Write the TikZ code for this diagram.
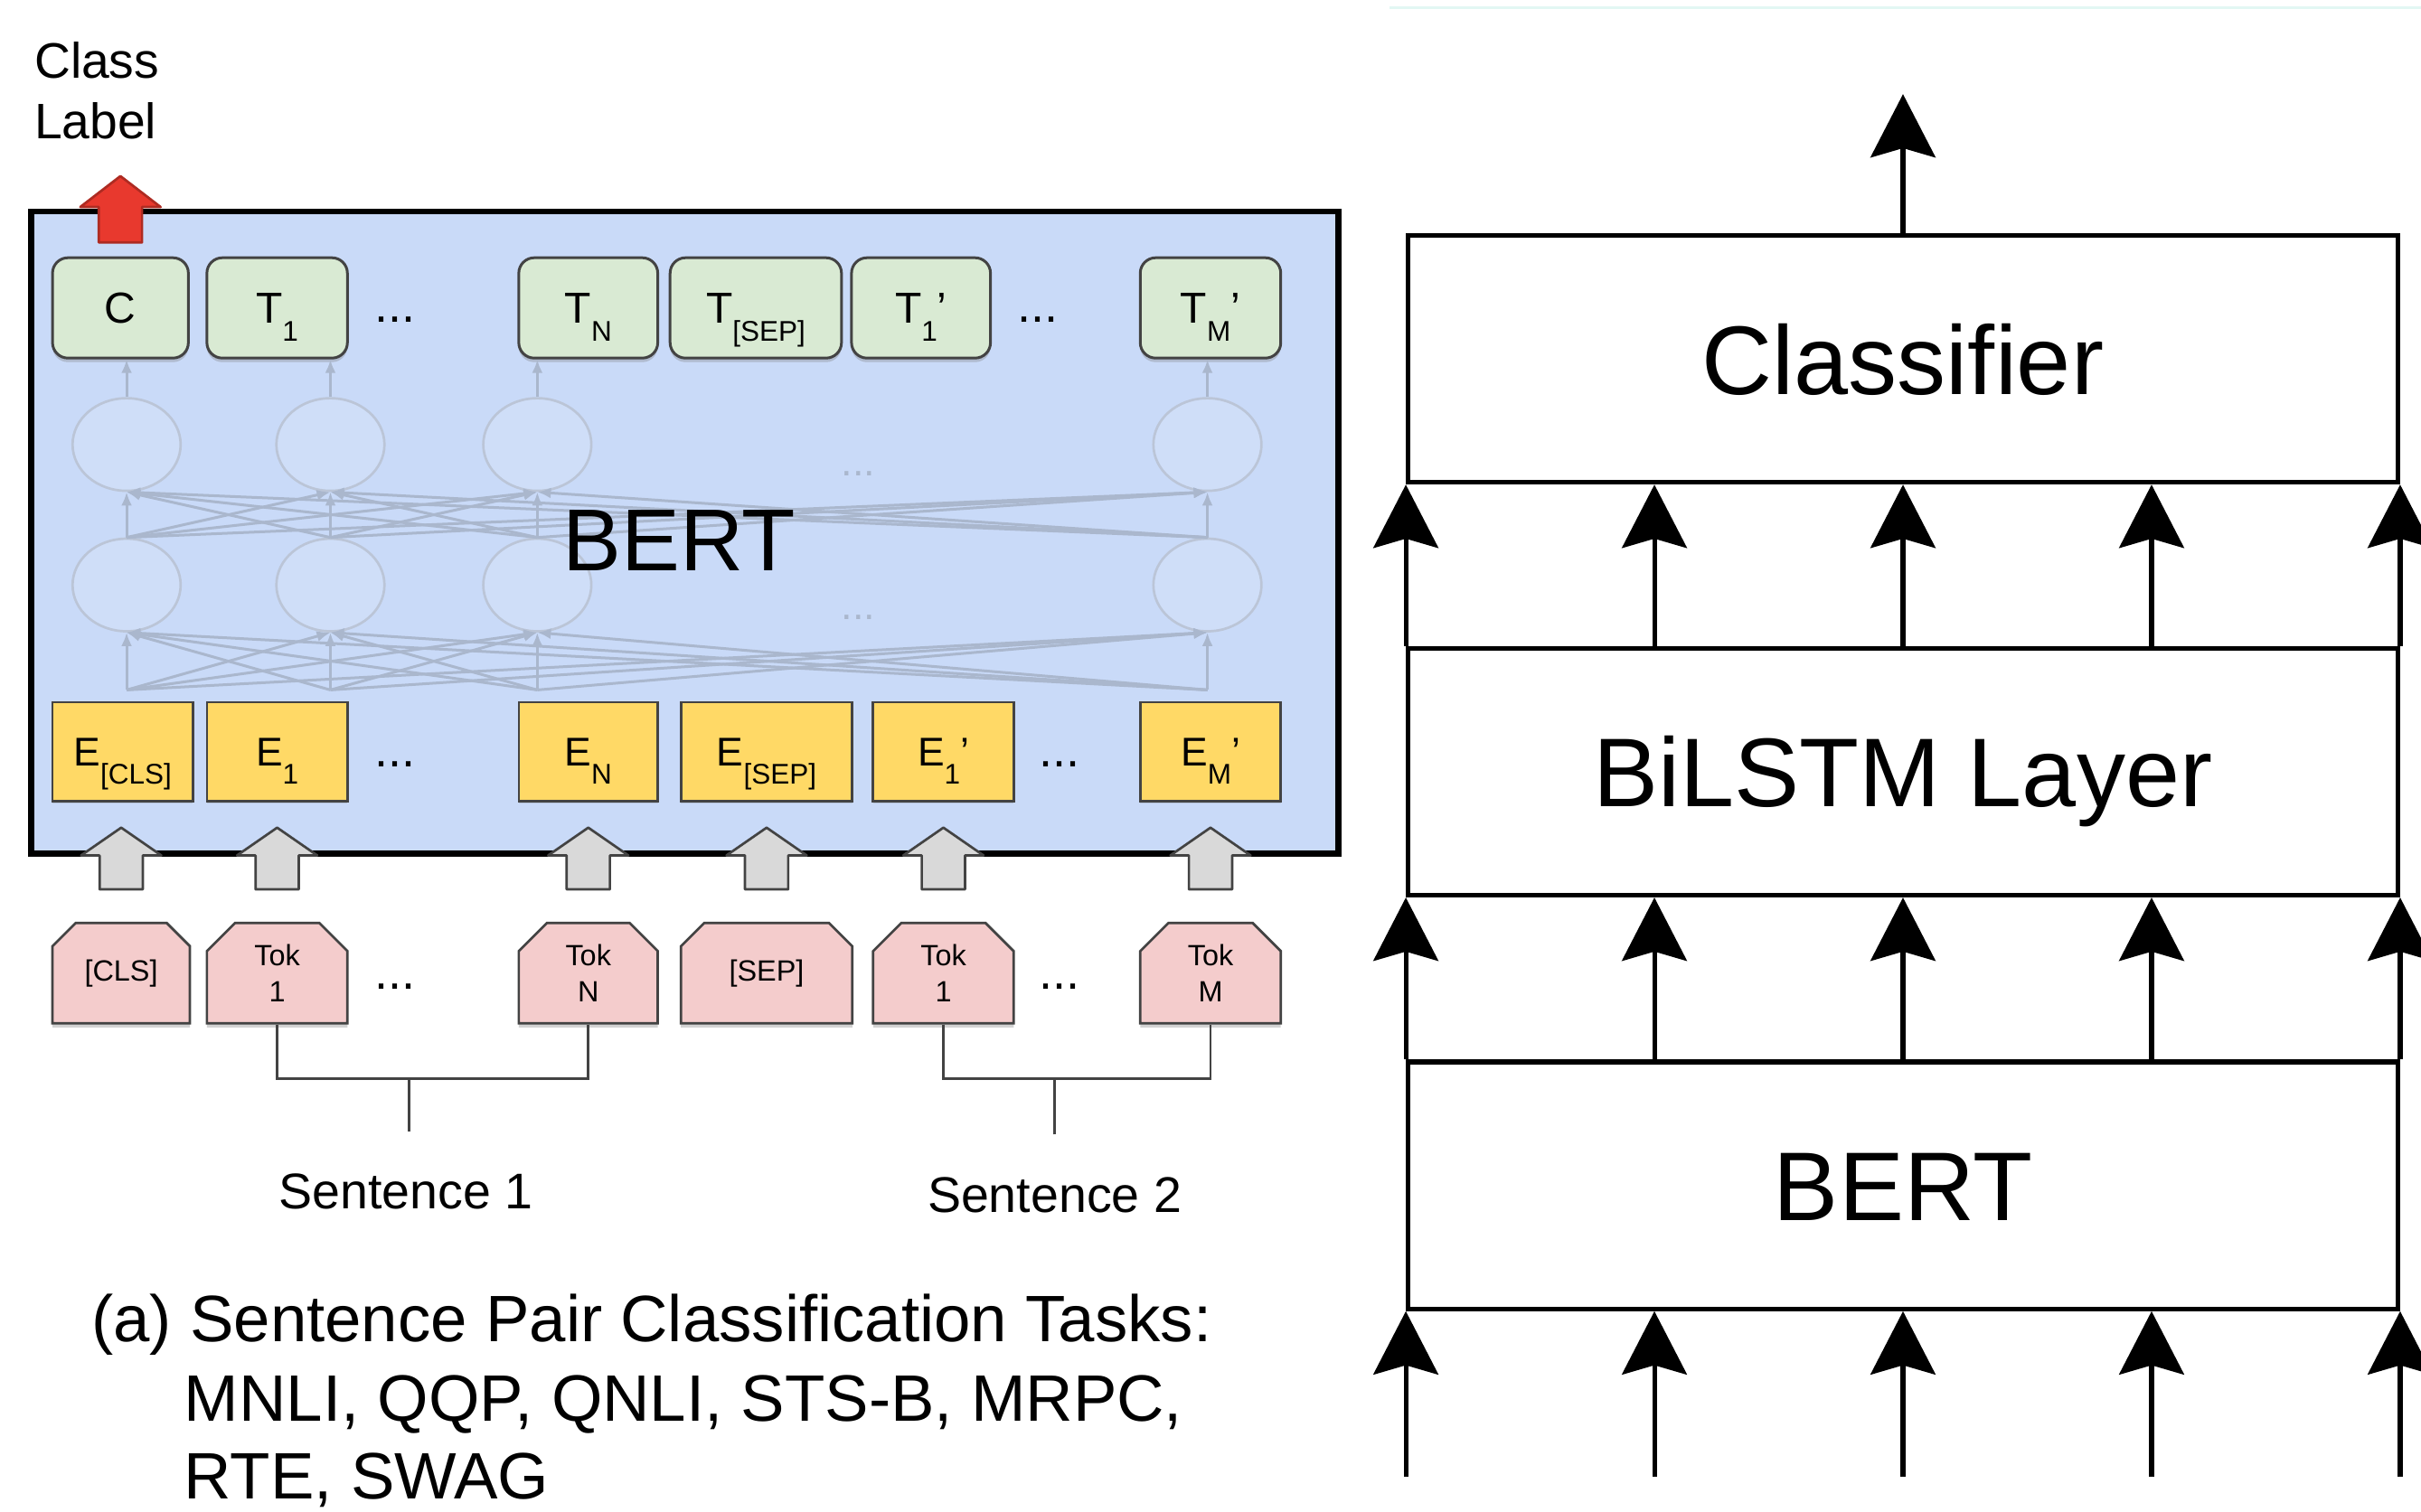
\documentclass[tikz,border=0pt]{standalone}
\usepackage{fontspec}
\setmainfont{Liberation Sans}
\usetikzlibrary{arrows.meta, positioning, calc, shapes.misc, shapes.geometric, shadows}

\definecolor{bertblue}{HTML}{C9DAF8}
\definecolor{outgreen}{HTML}{D9EAD3}
\definecolor{embyellow}{HTML}{FFD966}
\definecolor{tokpink}{HTML}{F4CCCC}
\definecolor{arrowgray}{HTML}{D9D9D9}
\definecolor{edgegray}{HTML}{434343}
\definecolor{labelred}{HTML}{E8392E}
\definecolor{netgray}{HTML}{AAB7CD}
\definecolor{faintcyan}{HTML}{E2F7F3}

\newcommand\pxl{0.02cm}
% letter with lowered index and optional prime
\newcommand\subl[3][]{#2\raisebox{-6.5pt}{\fontsize{10.5pt}{10.5pt}\selectfont #3}#1}

\begin{document}
\begin{tikzpicture}[
    x=0.02cm, y=0.02cm,
    % token boxes
    tokout/.style={draw=edgegray, line width=1pt, fill=outgreen, rounded corners=0.2cm,
                   minimum height=65*\pxl, inner sep=0pt, text height=11.5pt, text depth=0pt,
                   font=\fontsize{16pt}{19pt}\selectfont,
                   drop shadow={shadow xshift=0pt, shadow yshift=-1.5pt, opacity=0.35}},
    emb/.style   ={draw=edgegray, line width=0.9pt, fill=embyellow,
                   minimum height=64*\pxl, inner sep=0pt, text height=10.6pt, text depth=0pt,
                   font=\fontsize{14.8pt}{18pt}\selectfont,
                   drop shadow={shadow xshift=0pt, shadow yshift=-1pt, opacity=0.25}},
    tokin/.style ={draw=edgegray, line width=0.9pt, fill=tokpink, chamfered rectangle,
                   chamfered rectangle corners={north west, north east},
                   chamfered rectangle xsep=0.24cm,
                   minimum height=65*\pxl, inner sep=0pt, align=center,
                   font=\fontsize{10.8pt}{13.3pt}\selectfont,
                   drop shadow={shadow xshift=0pt, shadow yshift=-1.5pt, opacity=0.35}},
    dots/.style  ={inner sep=0pt, font=\fontsize{18pt}{18pt}\selectfont},
    bertbox/.style={draw=black, line width=2.3pt, fill=bertblue, inner sep=0pt},
    % faint network inside the encoder
    neuron/.style={draw=netgray!80, line width=0.9pt, ellipse, fill=white, fill opacity=0.12,
                   minimum width=70*\pxl, minimum height=60*\pxl, inner sep=0pt},
    netline/.style={draw=netgray, line width=1pt, -{Latex[length=5pt, width=4pt]}},
    % arrows and wires
    blockup/.style={draw=edgegray, fill=arrowgray, line width=0.9pt, line join=round},
    redup/.style ={draw=labelred!75!black, fill=labelred, line width=0.9pt, line join=round},
    bracket/.style={draw=edgegray, line width=0.9pt},
    % right-hand stack
    layer/.style ={draw, line width=1.7pt, minimum width=641*\pxl, minimum height=160*\pxl,
                   inner sep=0pt, text height=26pt, text depth=0pt,
                   font=\fontsize{36pt}{40pt}\selectfont},
    uparrow/.style={line width=1.7pt, -{Stealth[length=0.82cm, width=0.84cm, inset=0.12cm]}},
    sentence/.style={font=\fontsize{18.5pt}{22pt}\selectfont},
    caption/.style={anchor=base west, inner sep=0pt, font=\fontsize{24.2pt}{29pt}\selectfont}
]

\useasboundingbox (0,0) rectangle (1568,979);
\fill[white] (0,0) rectangle (1568,979);

% =========================== (a) left panel ===========================
\node[bertbox, minimum width=847*\pxl, minimum height=416*\pxl] (bert) at (443.5,634) {};

% output tokens
\node[tokout, minimum width=88*\pxl]  (tC)    at (78,779.5)    {C};
\node[tokout, minimum width=91*\pxl]  (tOne)  at (179.5,779.5) {\subl{T}{1}};
\node[dots]                           (tDotsA) at (256,772)    {...};
\node[tokout, minimum width=90*\pxl]  (tN)    at (381,779.5)   {\subl{T}{N}};
\node[tokout, minimum width=111*\pxl] (tSep)  at (489.5,779.5) {\subl{T}{[SEP]}};
\node[tokout, minimum width=90*\pxl]  (tOneP) at (596.5,779.5) {\subl[’]{T}{1}};
\node[dots]                           (tDotsB) at (672,772)    {...};
\node[tokout, minimum width=91*\pxl]  (tMP)   at (784,779.5)   {\subl[’]{T}{M}};

% embeddings
\node[emb, minimum width=91*\pxl]  (eCls)  at (79.5,492)  {\subl{E}{[CLS]}};
\node[emb, minimum width=91*\pxl]  (eOne)  at (179.5,492) {\subl{E}{1}};
\node[dots]                        (eDotsA) at (256,484)  {...};
\node[emb, minimum width=90*\pxl]  (eN)    at (381,492)   {\subl{E}{N}};
\node[emb, minimum width=111*\pxl] (eSep)  at (496.5,492) {\subl{E}{[SEP]}};
\node[emb, minimum width=91*\pxl]  (eOneP) at (611,492)   {\subl[’]{E}{1}};
\node[dots]                        (eDotsB) at (686,484)  {...};
\node[emb, minimum width=91*\pxl]  (eMP)   at (784,492)   {\subl[’]{E}{M}};

% two layers of hidden units, all-to-all
\foreach \x [count=\i] in {82,214,348,782} {
  \coordinate (in\i) at (\x,532);
  \node[neuron] (lo\i) at (\x,600) {};
  \node[neuron] (up\i) at (\x,691) {};
}
\foreach \i in {1,...,4} {
  \foreach \j in {1,...,4} {
    \draw[netline] (in\i) -- (lo\j.south);
    \draw[netline] (lo\i.north) -- (up\j.south);
  }
  \draw[netline] (up\i.north) -- (up\i.north |- tC.south);
}
\node[dots, text=netgray, font=\fontsize{15pt}{15pt}\selectfont] (netDotsA) at (556,672) {...};
\node[dots, text=netgray, font=\fontsize{15pt}{15pt}\selectfont] (netDotsB) at (556,579) {...};

\node[font=\fontsize{32.4pt}{36pt}\selectfont] (bertLbl) at (440,629) {BERT};

% input tokens
\node[tokin, minimum width=89*\pxl]  (kCls)  at (78.5,348.5)  {[CLS]};
\node[tokin, minimum width=91*\pxl]  (kOne)  at (179.5,348.5) {Tok\\1};
\node[dots]                          (kDotsA) at (256,340)    {...};
\node[tokin, minimum width=90*\pxl]  (kN)    at (381,348.5)   {Tok\\N};
\node[tokin, minimum width=111*\pxl] (kSep)  at (496.5,348.5) {[SEP]};
\node[tokin, minimum width=91*\pxl]  (kOneP) at (611,348.5)   {Tok\\1};
\node[dots]                          (kDotsB) at (686,340)    {...};
\node[tokin, minimum width=91*\pxl]  (kMP)   at (784,348.5)   {Tok\\M};

% block arrows into the encoder
\foreach \n in {kCls,kOne,kN,kSep,kOneP,kMP}
  \draw[blockup] (\n.north) ++(-14,21) -- ++(0,22) -- ++(-12,0) -- ++(26,18)
                 -- ++(26,-18) -- ++(-12,0) -- ++(0,-22) -- cycle;

% class label out of C
\draw[redup] (tC.north) ++(-14,9) -- ++(0,23) -- ++(-12,0) -- ++(26,20)
             -- ++(26,-20) -- ++(-12,0) -- ++(0,-23) -- cycle;
\node[anchor=north west, inner sep=0pt, align=left,
      font=\fontsize{18.4pt}{22.2pt}\selectfont] (clsLbl) at (22,952) {Class\\Label};

% sentence brackets
\coordinate (stemA) at (265,246);
\coordinate (stemB) at (683,244);
\draw[bracket] (kOne.south) -- ++(0,-35) -| (kN.south);
\draw[bracket] (stemA) -- ++(0,35);
\draw[bracket] (kOneP.south) -- ++(0,-35) -| (kMP.south);
\draw[bracket] (stemB) -- ++(0,37);
\node[sentence] (sentA) at (263,207) {Sentence 1};
\node[sentence] (sentB) at (683,205) {Sentence 2};

% caption
\node[caption] (capA) at (59,110) {(a) Sentence Pair Classification Tasks:};
\node[caption] (capB) at (119,58) {MNLI, QQP, QNLI, STS-B, MRPC,};
\node[caption] (capC) at (119,8)  {RTE, SWAG};

% ========================= right-hand stack ===========================
\draw[faintcyan, line width=1pt] (900,974) -- (1568,974);

\node[layer] (cls)   at (1232.5,746.5) {Classifier};
\node[layer] (lstm)  at (1232.5,479)   {BiLSTM Layer};
\node[layer] (rbert) at (1232.5,211)   {BERT};

\draw[uparrow] (cls.north) -- ++(0,90);
\foreach \f in {0,0.25,0.5,0.75,1} {
  \draw[uparrow] ($(lstm.north west)!\f!(lstm.north east)$) -- ($(cls.south west)!\f!(cls.south east)$);
  \draw[uparrow] ($(rbert.north west)!\f!(rbert.north east)$) -- ($(lstm.south west)!\f!(lstm.south east)$);
  \draw[uparrow] ($(rbert.south west)!\f!(rbert.south east)+(0,-107)$) -- ($(rbert.south west)!\f!(rbert.south east)$);
}

\end{tikzpicture}
\end{document}
